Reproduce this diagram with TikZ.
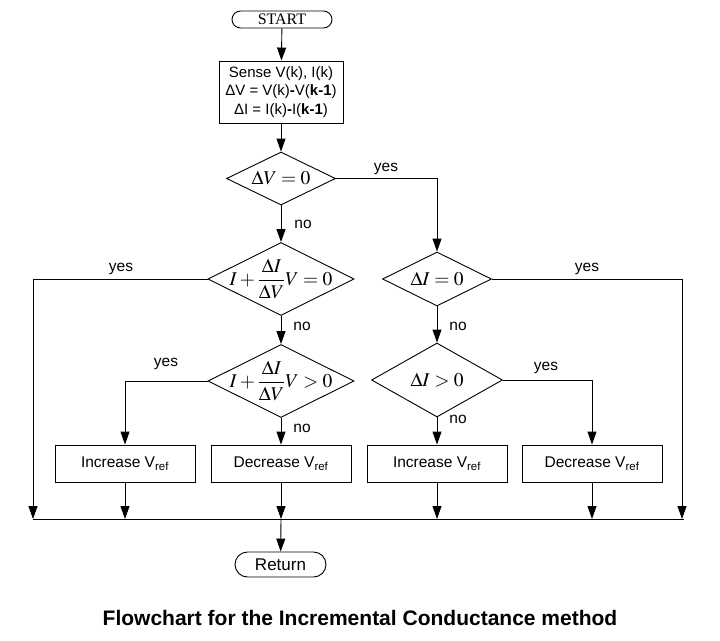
\documentclass[tikz,border=0pt]{standalone}
\usepackage{amsmath}
\usepackage{mathptmx}
\usepackage{fontspec}
\setmainfont{Liberation Sans}
\newfontfamily\startfont{Liberation Serif}
\usetikzlibrary{shapes.geometric,shapes.misc,arrows.meta}
\begin{document}
\begin{tikzpicture}[x=1pt,y=-1pt,
  base/.style={draw, line width=0.9pt, inner sep=0pt, fill=white},
  procbox/.style={base, rectangle, minimum width=140pt, minimum height=37pt, font=\fontsize{15.5}{18}\selectfont},
  dia/.style={base, diamond},
  mathlab/.style={font=\fontsize{19.5}{22}\selectfont},
  term/.style={base, rounded rectangle},
  conn/.style={line width=0.9pt, -{Triangle[length=13pt,width=9pt]}},
  plain/.style={line width=0.9pt},
  lab/.style={font=\fontsize{15.5}{18}\selectfont, inner sep=0pt}]
\useasboundingbox[fill=white] (0,0) rectangle (720,640);

% terminals and process
\node[term, minimum width=100pt, minimum height=17pt, font=\startfont\fontsize{16}{18}\selectfont] (start) at (282,19.5) {START};
\node[base, rectangle, minimum width=124pt, minimum height=62pt, align=center, font=\fontsize{15}{18.5}\selectfont] (sense) at (281,92)
  {Sense V(k), I(k)\\ ΔV = V(k)\textbf{-}V(\textbf{k-1})\\ ΔI = I(k)\textbf{-}I(\textbf{k-1})};

% decisions
\node[dia, minimum width=109pt, minimum height=53pt, label={[mathlab]center:$\Delta V=0$}] (d1) at (281,178.5) {};
\node[dia, minimum width=146pt, minimum height=73pt, label={[mathlab]center:$I+\dfrac{\Delta I}{\Delta V}V=0$}] (d2) at (281,279) {};
\node[dia, minimum width=146pt, minimum height=73pt, label={[mathlab]center:$I+\dfrac{\Delta I}{\Delta V}V>0$}] (d3) at (281,381) {};
\node[dia, minimum width=109pt, minimum height=54pt, label={[mathlab]center:$\Delta I=0$}] (e1) at (437,279) {};
\node[dia, minimum width=131pt, minimum height=74pt, label={[mathlab]center:$\Delta I>0$}] (e2) at (437,380) {};

% action boxes
\node[procbox] (b1) at (125,463.5) {Increase V\textsubscript{ref}};
\node[procbox] (b2) at (281,463.5) {Decrease V\textsubscript{ref}};
\node[procbox] (b3) at (437,463.5) {Increase V\textsubscript{ref}};
\node[procbox] (b4) at (592,463.5) {Decrease V\textsubscript{ref}};

\node[term, minimum width=91pt, minimum height=25pt, font=\fontsize{17}{20}\selectfont] (ret) at (280.5,564.5) {Return};

% junction coordinates
\coordinate (lineL) at (33,519);
\coordinate (lineR) at (684,519);
\coordinate (jl) at (33,519);
\coordinate (jr) at (682,519);

% connectors
\draw[conn] (start) -- (sense);
\draw[conn] (sense) -- (d1);
\draw[conn] (d1) -- (d2);
\draw[conn] (d1.east) -| (e1);
\draw[conn] (d2) -- (d3);
\draw[conn] (d2.west) -| (jl);
\draw[conn] (d3.west) -| (b1);
\draw[conn] (d3) -- (b2);
\draw[conn] (e1) -- (e2);
\draw[conn] (e1.east) -| (jr);
\draw[conn] (e2) -- (b3);
\draw[conn] (e2.east) -| (b4);
\draw[conn] (b1.south) -- (b1.south |- lineL);
\draw[conn] (b2.south) -- (b2.south |- lineL);
\draw[conn] (b3.south) -- (b3.south |- lineL);
\draw[conn] (b4.south) -- (b4.south |- lineL);
\draw[plain] (lineL) -- (lineR);
\draw[conn] (b2.south |- lineL) -- (ret);

% labels
\node[lab] (y1) at (386,169) {yes};
\node[lab] (n1) at (303,224) {no};
\node[lab] (y2) at (121,269) {yes};
\node[lab] (n2) at (302,326) {no};
\node[lab] (y3) at (166,364) {yes};
\node[lab] (n3) at (302,428) {no};
\node[lab] (y4) at (587,269) {yes};
\node[lab] (n4) at (458,326) {no};
\node[lab] (y5) at (546,368) {yes};
\node[lab] (n5) at (458,419) {no};

\node[font=\bfseries\fontsize{21}{24}\selectfont, anchor=base] (title) at (360,625) {Flowchart for the Incremental Conductance method};
\end{tikzpicture}
\end{document}
